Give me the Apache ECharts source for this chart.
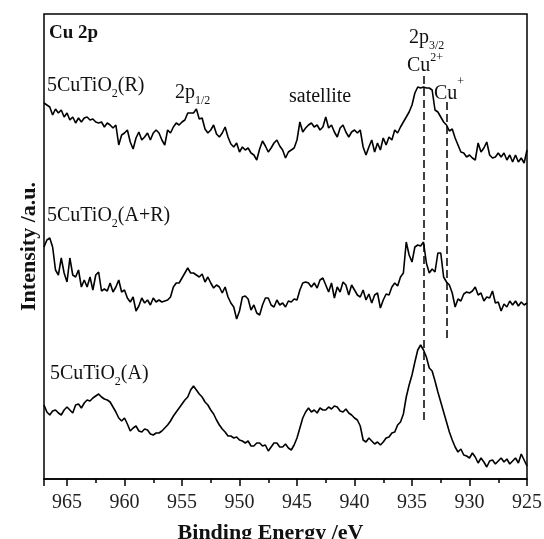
<!DOCTYPE html>
<html>
<head>
<meta charset="utf-8">
<script src="https://cdn.jsdelivr.net/npm/echarts@6/dist/echarts.min.js"></script>
<style>html,body{margin:0;padding:0;background:#fff;}#c{width:544px;height:539px;}</style>
</head>
<body>
<div id="c"></div>
<script>
// Binding energy samples (eV)
const energy = [
  967,966.75,966.5,966.25, 966,965.75,965.5,965.25, 965,964.75,964.5,964.25, 964,963.75,963.5,963.25,
  963,962.75,962.5,962.25, 962,961.75,961.5,961.25, 961,960.75,960.5,960.25, 960,959.75,959.5,959.25,
  959,958.75,958.5,958.25, 958,957.75,957.5,957.25, 957,956.75,956.5,956.25, 956,955.75,955.5,955.25,
  955,954.75,954.5,954.25, 954,953.75,953.5,953.25, 953,952.75,952.5,952.25, 952,951.75,951.5,951.25,
  951,950.75,950.5,950.25, 950,949.75,949.5,949.25, 949,948.75,948.5,948.25, 948,947.75,947.5,947.25,
  947,946.75,946.5,946.25, 946,945.75,945.5,945.25, 945,944.75,944.5,944.25, 944,943.75,943.5,943.25,
  943,942.75,942.5,942.25, 942,941.75,941.5,941.25, 941,940.75,940.5,940.25, 940,939.75,939.5,939.25,
  939,938.75,938.5,938.25, 938,937.75,937.5,937.25, 937,936.75,936.5,936.25, 936,935.75,935.5,935.25,
  935,934.75,934.5,934.25, 934,933.75,933.5,933.25, 933,932.75,932.5,932.25, 932,931.75,931.5,931.25,
  931,930.75,930.5,930.25, 930,929.75,929.5,929.25, 929,928.75,928.5,928.25, 928,927.75,927.5,927.25,
  927,926.75,926.5,926.25, 926,925.75,925.5,925.25, 925];
// Intensity (a.u., vertically offset traces)
const seriesR = [
  376,374,372,364, 370,366,369,362, 366,359,362,356, 361,357,361,362,
  359,360,357,356, 357,352,356,354, 351,354,334,344, 346,349,337,330,
  341,347,339,342, 346,339,346,349, 346,339,334,349, 346,352,356,354,
  357,359,366,366, 366,370,360,361, 350,346,349,354, 345,342,346,352,
  342,335,332,336, 327,332,329,331, 326,324,319,330, 338,333,327,331,
  336,339,333,329, 321,327,329,331, 339,357,347,351, 354,356,352,354,
  349,352,362,351, 354,347,342,351, 354,347,342,347, 349,346,349,332,
  324,332,339,327, 336,329,341,334, 342,339,349,346, 352,357,362,367,
  374,386,392,391, 392,391,391,389, 369,367,362,357, 354,348,350,341,
  334,327,326,322, 324,321,319,336, 327,331,337,324, 321,322,326,322,
  326,319,324,317, 324,317,321,316, 329];
const seriesAR = [
  232,239,241,232, 209,204,221,206, 197,221,204,202, 209,192,199,192,
  202,189,204,207, 188,190,188,196, 187,192,199,187, 189,181,177,182,
  168,173,181,176, 179,174,181,177, 179,177,178,179, 182,192,196,196,
  201,206,211,206, 206,204,202,205, 197,202,196,191, 194,192,186,192,
  182,176,172,160, 168,182,183,180, 169,174,166,164, 174,181,181,174,
  172,179,174,176, 172,178,177,180, 179,189,196,197, 196,192,196,191,
  199,201,194,187, 196,181,192,187, 197,194,184,194, 189,184,182,189,
  179,185,176,184, 186,171,179,185, 184,192,196,193, 202,206,237,224,
  217,232,234,233, 237,216,206,210, 207,226,226,202, 197,194,186,172,
  180,178,185,187, 186,188,192,184, 186,178,182,181, 188,176,177,168,
  175,172,178,174, 178,173,177,174, 176];
const seriesA = [
  74,67,64,68, 69,66,64,69, 72,69,66,74, 75,71,76,79,
  78,81,83,85, 82,80,79,77, 72,67,61,58, 61,55,48,51,
  53,48,47,50, 49,45,44,46, 46,48,51,54, 58,63,67,71,
  75,79,82,89, 93,89,85,82, 77,74,69,65, 59,54,50,47,
  43,43,41,42, 39,38,36,38, 33,33,36,36, 33,34,28,32,
  36,36,32,32, 35,31,29,34, 41,51,61,67, 71,67,69,66,
  71,69,69,72, 70,73,72,68, 67,70,66,64, 61,59,53,39,
  37,41,38,35, 37,34,37,41, 42,46,47,54, 57,65,82,94,
  104,117,129,134, 129,122,111,108, 98,87,77,67, 57,47,39,32,
  27,30,24,23, 21,26,22,16, 21,17,12,18, 19,15,18,21,
  17,20,15,18, 21,16,25,19, 13];
// Reference dashed lines (Cu2+ and Cu+): energy and intensity span
const refEnergy = [934.0, 932.0];
const refFrom = [59, 141];
const refTo = [404, 379];
const xTicks = [965,960,955,950,945,940,935,930,925];

const FF = '"Liberation Serif","Times New Roman",serif';
const chart = echarts.init(document.getElementById('c'));

function mk(name, arr, extra) {
  return Object.assign({
    name: name, type: 'line', showSymbol: false, symbol: 'none',
    data: energy.map((e, i) => [e, arr[i]]),
    lineStyle: { color: '#000', width: 1.6 }, itemStyle: { color: '#000' },
    animation: false, silent: true
  }, extra || {});
}

const sub = { fontFamily: FF, fontSize: 12, lineHeight: 12, verticalAlign: 'bottom', fill: '#111' };
const sup = { fontFamily: FF, fontSize: 12, lineHeight: 12, verticalAlign: 'top', fill: '#111' };
const main = { fontFamily: FF, fontSize: 20, lineHeight: 28, fill: '#111' };

function txt(x, y, text, opts) {
  return { type: 'text', x: x, y: y, silent: true,
    style: Object.assign({ text: text, fill: '#111', fontFamily: FF, fontSize: 20, verticalAlign: 'middle', align: 'left',
      rich: { m: main, sub: sub, sup: sup } }, opts || {}) };
}

chart.setOption({
  animation: false,
  backgroundColor: '#fff',
  grid: { left: 44, top: 14, right: 17, bottom: 60, containLabel: false, outerBoundsMode: 'none',
    show: true, borderColor: '#000', borderWidth: 1.5, backgroundColor: 'transparent' },
  xAxis: {
    type: 'value', min: 925, max: 967, interval: 5, inverse: true,
    name: 'Binding Energy /eV', nameLocation: 'middle', nameGap: 43,
    nameTextStyle: { fontFamily: FF, fontSize: 22, fontWeight: 'bold', color: '#111', padding: [0, 30, 0, 0] },
    axisLine: { show: true, lineStyle: { color: '#000', width: 1.5 } },
    axisTick: { show: true, length: 7, lineStyle: { color: '#000', width: 1.5 } },
    minorTick: { show: true, splitNumber: 2, length: 4, lineStyle: { color: '#000', width: 1.5 } },
    axisLabel: { fontFamily: FF, fontSize: 20, color: '#222', margin: 14,
      customValues: xTicks, showMinLabel: true, showMaxLabel: true },
    splitLine: { show: false }
  },
  yAxis: {
    type: 'value', min: 0, max: 465,
    name: 'Intensity /a.u.', nameLocation: 'middle', nameGap: 4,
    nameTextStyle: { fontFamily: FF, fontSize: 22, fontWeight: 'bold', color: '#111' },
    axisLine: { show: false }, axisTick: { show: false }, axisLabel: { show: false }, splitLine: { show: false }
  },
  series: [
    mk('5CuTiO2(R)', seriesR, {
      markLine: {
        silent: true, symbol: 'none', animation: false, label: { show: false },
        lineStyle: { color: '#000', width: 1.5, type: [8, 4] },
        data: refEnergy.map((e, i) => [{ coord: [e, refFrom[i]] }, { coord: [e, refTo[i]] }])
      }
    }),
    mk('5CuTiO2(A+R)', seriesAR),
    mk('5CuTiO2(A)', seriesA)
  ],
  graphic: [
    txt(49, 33, 'Cu 2p', { fontWeight: 'bold', fontSize: 19 }),
    txt(47, 86, '{m|5CuTiO}{sub|2}{m|(R)}'),
    txt(47, 216, '{m|5CuTiO}{sub|2}{m|(A+R)}'),
    txt(50, 374, '{m|5CuTiO}{sub|2}{m|(A)}'),
    txt(175, 93, '{m|2p}{sub|1/2}'),
    txt(289, 97, 'satellite'),
    txt(409, 38, '{m|2p}{sub|3/2}'),
    txt(407, 66, '{m|Cu}{sup|2+}', { rich: { m: Object.assign({}, main, { lineHeight: 28 }), sup: sup } }),
    txt(434, 94, '{m|Cu}{sup|+}', { rich: { m: Object.assign({}, main, { lineHeight: 36 }), sup: sup } })
  ]
});
</script>
</body>
</html>
